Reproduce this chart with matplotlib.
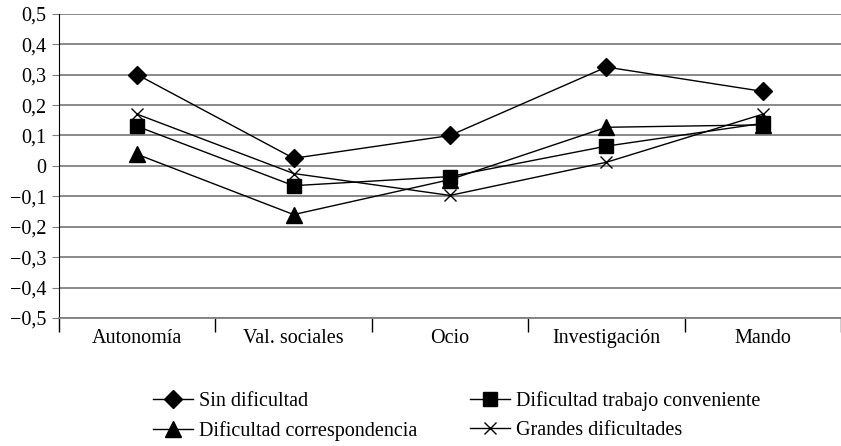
import numpy as np
import matplotlib.pyplot as plt
from matplotlib.ticker import FuncFormatter

# Datos
categorias = ['Autonomía', 'Val. sociales', 'Ocio', 'Investigación', 'Mando']
sin_dificultad = [0.30, 0.025, 0.10, 0.325, 0.245]
dif_trabajo = [0.13, -0.065, -0.035, 0.065, 0.14]
dif_correspondencia = [0.038, -0.16, -0.045, 0.127, 0.135]
grandes_dificultades = [0.17, -0.025, -0.097, 0.012, 0.17]

plt.rcParams['font.family'] = ['Liberation Serif', 'DejaVu Serif']

fig = plt.figure(figsize=(8.41, 4.46), dpi=100)
ax = fig.add_axes([0.0702, 0.287, 0.9298, 0.682])

x = np.arange(len(categorias))

l1, = ax.plot(x, sin_dificultad, color='black', lw=1, marker='D', ms=9,
              label='Sin dificultad')
l2, = ax.plot(x, dif_trabajo, color='black', lw=1, marker='s', ms=10,
              label='Dificultad trabajo conveniente')
l3, = ax.plot(x, dif_correspondencia, color='black', lw=1, marker='^', ms=12,
              label='Dificultad correspondencia')
l4, = ax.plot(x, grandes_dificultades, color='black', lw=1, marker='x', ms=9,
              mew=1, label='Grandes dificultades')

ax.set_xlim(-0.5, len(categorias) - 0.5)
ax.set_ylim(-0.5, 0.5)
ax.set_yticks(np.arange(-0.5, 0.51, 0.1))
ax.yaxis.set_major_formatter(FuncFormatter(
    lambda v, p: '0' if abs(v) < 1e-9 else ('%.1f' % v).replace('.', ',').replace('-', '\u2212')))
ax.grid(axis='y', color='#808080', lw=1.3)
ax.set_axisbelow(True)

# categorias centradas, marcas en los limites
ax.set_xticks(x)
ax.set_xticklabels(categorias)
ax.tick_params(axis='x', which='major', length=0, pad=8, labelsize=14.5)
ax.set_xticks(np.arange(-0.5, len(categorias), 1), minor=True)
ax.tick_params(axis='x', which='minor', length=10, width=1, color='black')
ax.tick_params(axis='y', length=5, color='#808080', labelsize=14.5, pad=4)

for s in ['top', 'right']:
    ax.spines[s].set_visible(False)
ax.spines['left'].set_color('black')
ax.spines['bottom'].set_color('#808080')
ax.spines['bottom'].set_linewidth(1.3)

fig.legend(handles=[l1, l3, l2, l4], ncol=2, frameon=False, fontsize=14.5,
           loc='lower left', bbox_to_anchor=(0.16, -0.03), handlelength=2.0,
           columnspacing=2.6, labelspacing=0.5, handletextpad=0.3)

plt.savefig('out.png', dpi=100)
